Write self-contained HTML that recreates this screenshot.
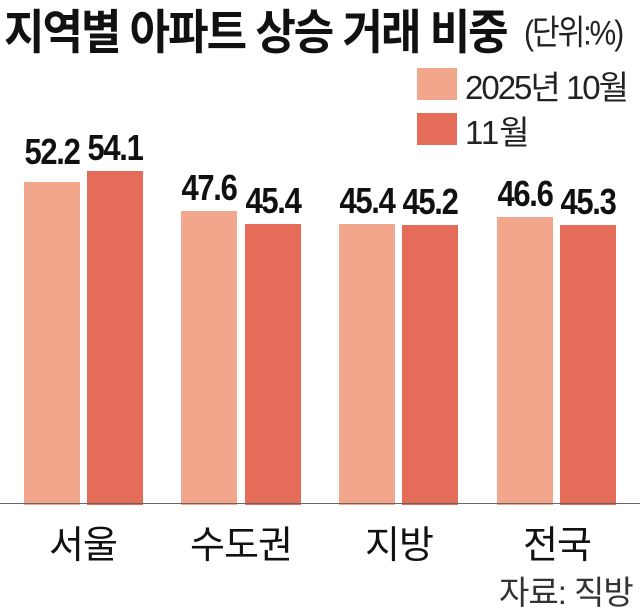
<!DOCTYPE html>
<html><head><meta charset="utf-8"><style>
body{margin:0;width:640px;height:608px;background:#fff;position:relative;overflow:hidden;font-family:"Liberation Sans","Noto Sans CJK KR",sans-serif;}
.a{position:absolute;white-space:nowrap;}
.t{left:4px;top:-6px;font-size:44px;font-weight:bold;letter-spacing:-2px;color:#111;transform:scaleY(1.08);transform-origin:top left;}
.u{left:524px;top:4px;font-size:30px;color:#222;letter-spacing:-2px;transform:scaleY(1.15);transform-origin:top left;}
.bar{position:absolute;width:56px;bottom:103px;}
.l{background:#f2a68c;} .d{background:#e56c59;}
.v{position:absolute;font-size:36px;font-weight:bold;width:90px;text-align:center;letter-spacing:-1.5px;color:#111;transform:scaleX(0.86);}
.c{position:absolute;top:514px;font-size:38px;width:140px;text-align:center;color:#111;letter-spacing:-1px;}
</style></head><body>
<div class="a t">지역별 아파트 상승 거래 비중</div>
<div class="a u">(단위:%)</div>
<div class="a" style="left:417px;top:68px;width:40px;height:32px;background:#f2a68c"></div>
<div class="a" style="left:465px;top:61px;font-size:33px;color:#222;letter-spacing:-2px">2025년 10월</div>
<div class="a" style="left:417px;top:113px;width:40px;height:32px;background:#e56c59"></div>
<div class="a" style="left:465px;top:106px;font-size:33px;color:#222">11월</div>

<div class="bar l" style="left:24px;height:323px"></div>
<div class="bar d" style="left:87px;height:334px"></div>
<div class="bar l" style="left:181px;height:294px"></div>
<div class="bar d" style="left:245px;height:281px"></div>
<div class="bar l" style="left:339px;height:281px"></div>
<div class="bar d" style="left:402px;height:280px"></div>
<div class="bar l" style="left:497px;height:288px"></div>
<div class="bar d" style="left:560px;height:280px"></div>

<div class="v" style="left:7px;top:131px">52.2</div>
<div class="v" style="left:70px;top:127px">54.1</div>
<div class="v" style="left:164px;top:167px">47.6</div>
<div class="v" style="left:228px;top:180px">45.4</div>
<div class="v" style="left:322px;top:180px">45.4</div>
<div class="v" style="left:385px;top:181px">45.2</div>
<div class="v" style="left:480px;top:173px">46.6</div>
<div class="v" style="left:543px;top:181px">45.3</div>

<div class="a" style="left:0;top:503px;width:640px;height:1px;background:#666"></div>

<div class="c" style="left:13px">서울</div>
<div class="c" style="left:171px">수도권</div>
<div class="c" style="left:329px">지방</div>
<div class="c" style="left:487px">전국</div>
<div class="a" style="left:499px;top:566px;font-size:33px;color:#333;letter-spacing:-1px">자료: 직방</div>
</body></html>
